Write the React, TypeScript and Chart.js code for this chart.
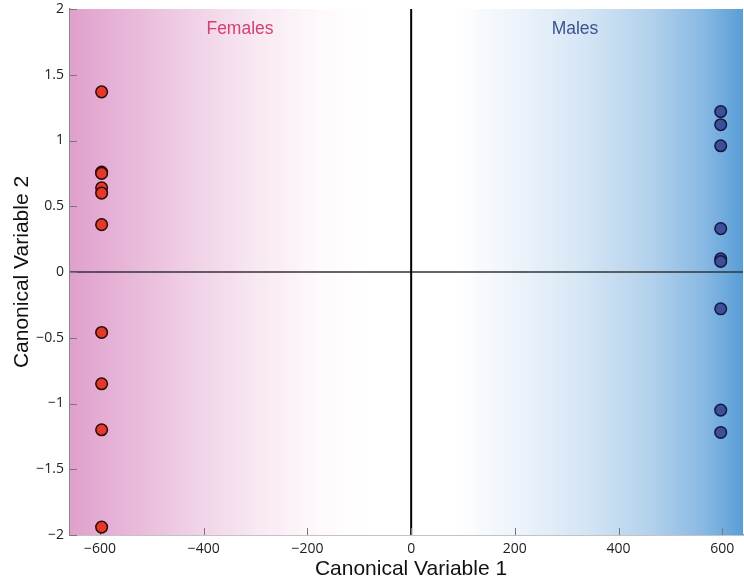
import React, { useEffect, useRef } from "react";
import { Chart, registerables } from "chart.js";
Chart.register(...registerables);

const femalesX = [-597, -597, -597, -597, -597, -597, -597, -597, -597, -597];
const femalesY = [1.37, 0.76, 0.75, 0.64, 0.6, 0.36, -0.46, -0.85, -1.2, -1.94];
const malesX = [597, 597, 597, 597, 597, 597, 597, 597, 597];
const malesY = [1.22, 1.12, 0.96, 0.33, 0.1, 0.08, -0.28, -1.05, -1.22];
const xTicks = [-600, -400, -200, 0, 200, 400, 600];
const yTicks = [-2, -1.5, -1, -0.5, 0, 0.5, 1, 1.5, 2];
const groupLabels = ["Females", "Males"];
const axisTitles = ["Canonical Variable 1", "Canonical Variable 2"];

const fmt = (v: number) => (v < 0 ? "\u2212" + String(-v) : String(v));

const plugin = {
  id: "custom",
  beforeDatasetsDraw(chart: any) {
    const { ctx, chartArea: a, scales } = chart;
    ctx.save();
    const g = ctx.createLinearGradient(a.left, 0, a.right, 0);
    g.addColorStop(0, "rgb(224,160,205)");
    g.addColorStop(0.08, "rgb(231,181,216)");
    g.addColorStop(0.18, "rgb(240,208,230)");
    g.addColorStop(0.28, "rgb(248,233,243)");
    g.addColorStop(0.37, "rgb(254,249,252)");
    g.addColorStop(0.44, "rgb(255,255,255)");
    g.addColorStop(0.57, "rgb(255,255,255)");
    g.addColorStop(0.66, "rgb(238,244,251)");
    g.addColorStop(0.76, "rgb(214,230,245)");
    g.addColorStop(0.86, "rgb(180,210,236)");
    g.addColorStop(0.94, "rgb(138,185,228)");
    g.addColorStop(1, "rgb(88,158,214)");
    ctx.fillStyle = g;
    ctx.fillRect(a.left, a.top, a.right - a.left, a.bottom - a.top);

    const x0 = scales.x.getPixelForValue(0);
    const y0 = scales.y.getPixelForValue(0);
    ctx.strokeStyle = "#333";
    ctx.lineWidth = 1.3;
    ctx.beginPath();
    ctx.moveTo(a.left, y0);
    ctx.lineTo(a.right, y0);
    ctx.stroke();
    ctx.strokeStyle = "#000";
    ctx.lineWidth = 2;
    ctx.beginPath();
    ctx.moveTo(x0, a.top);
    ctx.lineTo(x0, a.bottom);
    ctx.stroke();

    // inward tick marks
    ctx.strokeStyle = "#777";
    ctx.lineWidth = 1;
    xTicks.forEach((v) => {
      const px = Math.round(scales.x.getPixelForValue(v)) + 0.5;
      ctx.beginPath();
      ctx.moveTo(px, a.bottom);
      ctx.lineTo(px, a.bottom - 7);
      ctx.stroke();
    });
    yTicks.forEach((v) => {
      const py = Math.round(scales.y.getPixelForValue(v)) + 0.5;
      ctx.beginPath();
      ctx.moveTo(a.left, py);
      ctx.lineTo(a.left + 7, py);
      ctx.stroke();
    });

    ctx.font = '17.5px "Liberation Sans", Arial, sans-serif';
    ctx.textAlign = "center";
    ctx.textBaseline = "middle";
    ctx.fillStyle = "#d2416f";
    ctx.fillText(groupLabels[0], 240, 29);
    ctx.fillStyle = "#3d5390";
    ctx.fillText(groupLabels[1], 575, 29);
    ctx.restore();
  },
  afterDraw(chart: any) {
    const { ctx } = chart;
    ctx.save();
    ctx.fillStyle = "#111";
    ctx.font = '21px "Liberation Sans", Arial, sans-serif';
    ctx.textAlign = "center";
    ctx.textBaseline = "middle";
    ctx.fillText(axisTitles[0], 411, 569);
    ctx.translate(22, 272);
    ctx.rotate(-Math.PI / 2);
    ctx.fillText(axisTitles[1], 0, 0);
    ctx.restore();
  },
};

export default function App() {
  const ref = useRef<HTMLCanvasElement>(null);
  useEffect(() => {
    const toPts = (xs: number[], ys: number[]) => xs.map((x, i) => ({ x, y: ys[i] }));
    const tickFont = { family: '"Open Sans", "Noto Sans", sans-serif', size: 14 };
    const chart = new Chart(ref.current!, {
      type: "scatter",
      data: {
        datasets: [
          {
            label: groupLabels[0],
            data: toPts(femalesX, femalesY),
            backgroundColor: "#e2392b",
            borderColor: "#2a0a08",
            borderWidth: 1.5,
            pointRadius: 5.8,
          },
          {
            label: groupLabels[1],
            data: toPts(malesX, malesY),
            backgroundColor: "#3b4f9c",
            borderColor: "#141838",
            borderWidth: 1.5,
            pointRadius: 5.8,
          },
        ],
      },
      options: {
        animation: false,
        responsive: false,
        events: [],
        layout: { autoPadding: false, padding: { top: 9, right: 1, left: 0, bottom: 0 } },
        plugins: { legend: { display: false }, tooltip: { enabled: false } },
        scales: {
          x: {
            type: "linear",
            min: -658,
            max: 640,
            afterBuildTicks: (s: any) => {
              s.ticks = xTicks.map((v) => ({ value: v }));
            },
            afterFit: (s: any) => {
              s.height = 47;
              s.paddingLeft = 0;
              s.paddingRight = 0;
            },
            grid: { display: false, drawTicks: false },
            border: { display: true, color: "#888", width: 1.5 },
            ticks: {
              callback: (v: any) => fmt(Number(v)),
              color: "#222",
              font: tickFont,
              padding: 6,
              maxRotation: 0,
              autoSkip: false,
            },
          },
          y: {
            type: "linear",
            min: -2,
            max: 2,
            afterBuildTicks: (s: any) => {
              s.ticks = yTicks.map((v) => ({ value: v }));
            },
            afterFit: (s: any) => {
              s.width = 70;
              s.paddingTop = 0;
              s.paddingBottom = 0;
            },
            grid: { display: false, drawTicks: false },
            border: { display: true, color: "#888", width: 1.5 },
            ticks: {
              callback: (v: any) => fmt(Number(v)),
              color: "#222",
              font: tickFont,
              padding: 6,
              autoSkip: false,
            },
          },
        },
      },
      plugins: [plugin],
    });
    return () => chart.destroy();
  }, []);
  return (
    <div style={{ position: "fixed", left: 0, top: 0, width: 744, height: 582, background: "#fff" }}>
      <canvas ref={ref} width={744} height={582} style={{ display: "block" }} />
    </div>
  );
}
